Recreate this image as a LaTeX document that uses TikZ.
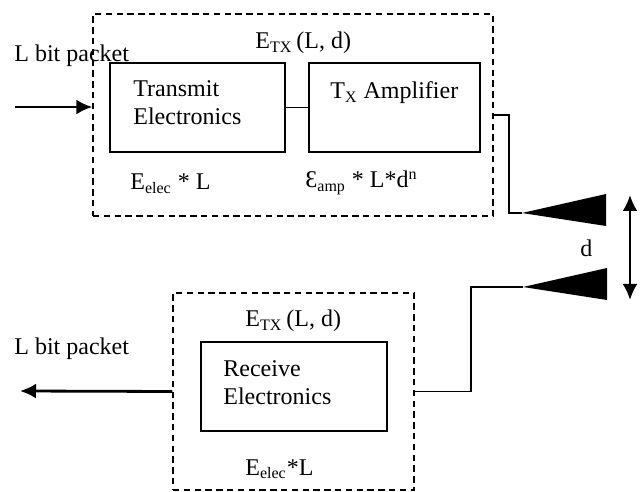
\documentclass[tikz,border=0pt]{standalone}
\usepackage{fontspec}
\setmainfont{Liberation Serif}
\usetikzlibrary{arrows.meta}
\tikzset{>={Latex[length=8pt,width=7.5pt]},
         blk/.style={draw, line width=0.75pt, inner sep=0pt},
         grp/.style={draw, line width=0.6pt, dash pattern=on 3.2pt off 2.2pt, inner sep=0pt},
         txt/.style={inner sep=0pt, font=\fontsize{12}{14}\selectfont},
         sig/.style={line width=1.4pt},
         wire/.style={line width=0.6pt}}

\begin{document}
\begin{tikzpicture}[x=0.5pt,y=-0.5pt]
   \useasboundingbox (0,0) rectangle (644,492);
   % transmitter
   \node[grp, minimum width=200pt, minimum height=101pt] (tx) at (293,115) {};
   \node[blk, minimum width=87.5pt, minimum height=44.5pt] (te) at (197.5,107.5) {};
   \node[blk, minimum width=85.5pt, minimum height=44.5pt] (amp) at (394.5,107.5) {};
   \node[txt, anchor=north west, align=left] (tetext) at (133,80) {Transmit\\Electronics};
   \node[txt, anchor=base west] (amptext) at (330,99) {T\textsubscript{X} Amplifier};
   \node[txt, anchor=base west] (etx) at (255,49) {E\textsubscript{TX}\,(L, d)};
   \node[txt, anchor=base west] (eelec) at (130,190) {E\textsubscript{elec} * L};
   \node[txt, anchor=base west] (eamp) at (305,188) {Ɛ\textsubscript{amp} * L*d\textsuperscript{n}};
   \node[txt, anchor=base west] (inlbl) at (14,62) {L bit packet};
   \coordinate (in) at (15,107);
   \draw[sig,->] (in) -- (in -| tx.west);
   \draw[wire] (te.east) -- (amp.east -| amp.west);
   % receiver
   \node[grp, minimum width=120.5pt, minimum height=98.5pt] (rx) at (293.5,391.5) {};
   \node[blk, minimum width=93pt, minimum height=44.5pt] (re) at (294,386.5) {};
   \node[txt, anchor=north west, align=left] (retext) at (223,360) {Receive\\Electronics};
   \node[txt, anchor=base west] (erx) at (245,327) {E\textsubscript{TX}\,(L, d)};
   \node[txt, anchor=base west] (erelec) at (245,475) {E\textsubscript{elec}*L};
   \node[txt, anchor=base west] (outlbl) at (14,355) {L bit packet};
   \coordinate (out) at (20,391);
   \draw[sig,->] (rx.west) -- (out);
   % antennas
   \coordinate (anta) at (522,213);
   \coordinate (antb) at (523,287);
   \fill (anta) -- (606,194) -- (606,226) -- cycle;
   \fill (antb) -- (607,268) -- (607,300) -- cycle;
   \draw[wire] (tx.east) -| (509,213) -- (anta);
   \draw[wire] (rx.east) -| (471,287) -- (antb);
   % distance
   \coordinate (da) at (630,195);
   \coordinate (db) at (630,300);
   \draw[sig,<->] (da) -- (db);
   \node[txt, anchor=base west] (dlbl) at (580,257) {d};
\end{tikzpicture}
\end{document}
